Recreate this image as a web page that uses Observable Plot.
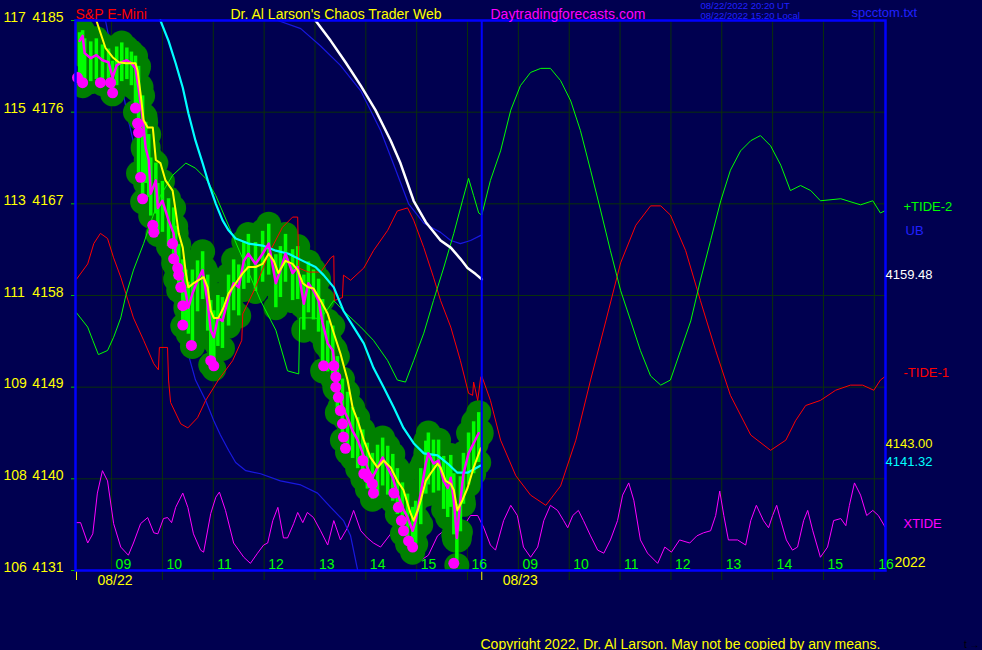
<!DOCTYPE html>
<html><head><meta charset="utf-8">
<script src="https://cdn.jsdelivr.net/npm/d3@7"></script>
<script src="https://cdn.jsdelivr.net/npm/@observablehq/plot@0.6"></script>
<style>html,body{margin:0;padding:0;background:#000050;overflow:hidden}</style>
</head><body><div id="chart"></div>
<script>
// ---- axis data ----
const yTicks = [4185, 4176, 4167, 4158, 4149, 4140, 4131];
const yLeftLabels = ["117", "115", "113", "111", "109", "108", "106"];
const hourT = [0, 1, 2, 3, 4, 5, 6, 7, 8, 9, 10, 11, 12, 13, 14, 15];
const hourLabels = ["09", "10", "11", "12", "13", "14", "15", "16", "09", "10", "11", "12", "13", "14", "15", "16"];
const dayT = [-0.69, 7.28];
const dayLabels = ["08/22", "08/23"];
const nowT = [7.28];

// ---- price bars (hours from 09:00, price) ----
const barT = [-0.63,-0.57,-0.53,-0.41,-0.30,-0.18,-0.06,0.02,0.10,0.20,0.30,0.39,0.47,0.53,0.61,0.67,0.73,0.77,0.87,0.91,1.00,1.12,1.22,1.26,1.32,1.40,1.46,1.51,1.59,1.69,1.79,1.89,1.95,2.01,2.09,2.18,2.30,2.40,2.50,2.60,2.69,2.83,2.97,3.09,3.23,3.32,3.42,3.56,3.66,3.78,3.87,3.97,4.07,4.15,4.25,4.35,4.44,4.54,4.64,4.74,4.84,4.94,5.03,5.13,5.23,5.33,5.43,5.53,5.62,5.72,5.82,5.92,5.98,6.08,6.18,6.23,6.33,6.43,6.53,6.61,6.67,6.73,6.79,6.86,6.92,7.02,7.12,7.22];
const barClose = [4183.0,4183.5,4181.8,4181.3,4181.6,4181.1,4180.9,
 4179.4,4180.6,4180.9,4181.1,4180.8,4180.3,
 4178.4,4175.5,4172.5,4171.3,4168.0,4169.3,4166.6,4167.3,
 4165.4,4164.1,4162.1,4160.8,4159.5,4158.2,4156.8,4158.2,4159.5,4160.5,4157.2,4154.6,4153.9,
 4155.8,4155.5,4157.8,4159.2,4158.8,4161.4,4162.1,4161.1,4162.1,4163.1,
 4159.2,4160.5,4162.1,4160.2,4160.8,4157.2,4159.2,4158.5,4157.5,
 4155.3,4153.3,4152.6,4149.0,4147.0,4146.0,4144.7,4143.8,4142.5,
 4141.1,4140.1,4141.1,4142.1,4141.1,4140.1,4138.6,4137.2,4136.2,4134.9,
 4135.9,4138.6,4141.5,4142.5,4141.5,4141.8,4139.8,4139.1,4140.1,4137.9,
 4134.2,4137.9,4140.5,4142.5,4143.5,4144.5];
const barHi = [4183.8,4184.0,4183.2,4182.9,4183.2,4182.6,4182.2,
 4181.0,4182.4,4182.8,4182.3,4181.9,4181.5,
 4180.5,4177.6,4175.0,4173.8,4171.5,4171.0,4169.0,4169.2,
 4167.5,4166.6,4164.8,4163.0,4161.5,4160.5,4159.3,4160.5,4161.4,4162.3,4160.0,4157.5,4156.5,
 4158.0,4157.8,4160.0,4161.5,4161.0,4163.3,4164.0,4163.2,4164.3,4165.0,
 4162.0,4162.8,4164.0,4162.5,4162.8,4160.0,4161.3,4160.5,4159.6,
 4157.6,4155.5,4155.0,4152.0,4149.8,4148.5,4147.0,4146.0,4144.8,
 4143.5,4142.5,4143.3,4144.0,4143.2,4142.4,4141.0,4139.6,4138.5,4137.2,
 4137.8,4141.0,4143.7,4144.5,4143.8,4143.8,4142.2,4141.5,4142.3,4140.5,
 4137.5,4140.2,4142.5,4144.5,4145.6,4146.5];
const barLo = [4178.8,4178.6,4178.8,4179.0,4179.2,4178.8,4178.6,
 4177.8,4178.6,4179.0,4179.2,4178.6,4176.0,
 4170.0,4167.2,4169.0,4167.6,4165.8,4166.0,4164.0,4164.2,
 4162.8,4161.2,4159.6,4158.5,4155.0,4154.8,4154.2,4153.0,4156.4,4157.6,4154.5,4151.2,4150.8,
 4153.0,4152.8,4155.0,4156.5,4156.0,4158.6,4159.2,4158.4,4159.3,4160.0,
 4156.8,4157.8,4159.3,4157.5,4157.6,4154.6,4156.3,4155.6,4154.4,
 4150.6,4150.5,4149.8,4146.5,4143.8,4142.6,4142.0,4141.0,4140.0,
 4139.0,4138.0,4138.3,4139.3,4138.4,4137.8,4136.5,4134.6,4133.6,4132.8,
 4133.6,4135.5,4138.5,4139.4,4138.6,4138.8,4137.0,4136.2,4137.2,4134.5,
 4131.5,4134.8,4137.5,4139.4,4140.5,4141.6];

// magenta low markers
const dotT = [-0.67,-0.57,-0.22,-0.02,0.02,0.47,0.51,0.53,0.57,0.61,0.81,0.83,1.20,1.22,1.30,1.32,1.36,1.40,1.40,1.57,1.95,2.01,4.17,4.37,4.41,4.41,4.46,4.50,4.54,4.56,4.60,4.94,4.96,5.05,5.13,5.15,5.55,5.64,5.70,5.74,5.84,5.92,6.73];
const dotV = [4179.4,4178.9,4178.9,4178.9,4177.9,4176.4,4174.9,4174.0,4169.6,4167.5,4164.9,4164.2,4163.1,4161.6,4160.7,4160.0,4158.8,4157.0,4155.1,4153.1,4151.6,4151.1,4151.1,4151.1,4150.0,4149.0,4148.0,4146.7,4145.4,4144.1,4143.0,4141.8,4140.5,4140.1,4139.5,4138.6,4138.6,4137.2,4135.9,4134.9,4133.9,4133.3,4131.7];

// yellow smoothed price
const avgT = [-0.30,-0.12,0.02,0.14,0.28,0.47,0.51,0.57,0.63,0.71,0.81,0.87,0.96,1.06,1.20,1.26,1.32,1.40,1.46,1.51,1.61,1.71,1.81,1.89,1.95,2.01,2.10,2.20,2.30,2.44,2.58,2.69,2.83,2.97,3.09,3.19,3.28,3.42,3.56,3.66,3.76,3.87,3.97,4.11,4.25,4.37,4.50,4.64,4.74,4.84,4.96,5.09,5.23,5.35,5.49,5.62,5.74,5.88,5.94,6.02,6.08,6.18,6.27,6.41,6.47,6.57,6.67,6.73,6.80,6.90,7.00,7.12,7.26];
const avgV = [4185.0,4182.3,4181.4,4180.9,4180.8,4180.8,4180.1,4177.8,4175.2,4174.5,4174.5,4171.3,4171.0,4169.3,4168.3,4166.3,4164.1,4162.7,4160.2,4158.8,4159.2,4159.5,4159.8,4158.8,4156.5,4155.8,4155.8,4156.8,4158.2,4159.2,4160.2,4160.8,4160.8,4161.1,4162.1,4161.4,4160.2,4161.4,4161.1,4160.5,4159.2,4158.8,4158.7,4157.5,4156.2,4154.3,4152.3,4149.7,4147.0,4145.7,4143.8,4142.1,4141.1,4141.8,4141.1,4139.8,4138.9,4136.6,4135.9,4136.9,4137.9,4139.8,4140.5,4141.5,4141.1,4139.8,4139.5,4138.9,4136.9,4137.9,4139.1,4141.1,4143.0];

// cyan average
const cyanT = [0.96,1.12,1.26,1.40,1.51,1.65,1.79,1.91,2.05,2.18,2.30,2.44,2.69,2.97,3.23,3.48,3.76,4.01,4.17,4.37,4.56,4.76,4.96,5.15,5.35,5.55,5.74,5.94,6.14,6.41,6.61,6.80,7.00,7.26];
const cyanV = [4185.0,4183.0,4180.8,4178.4,4175.9,4173.2,4171.0,4169.0,4167.0,4165.4,4164.4,4163.6,4163.1,4162.9,4162.4,4162.1,4161.4,4160.8,4160.0,4158.8,4156.5,4154.9,4153.3,4150.9,4149.0,4147.0,4145.0,4143.5,4142.5,4142.3,4141.5,4140.6,4140.6,4141.3];

// white curve
const whiteT = [4.01,4.31,4.60,4.90,5.19,5.49,5.68,5.94,6.18,6.47,6.67,6.86,7.00,7.16,7.28];
const whiteV = [4185.0,4183.0,4180.9,4178.6,4176.2,4173.2,4171.0,4167.3,4165.2,4163.4,4162.7,4161.6,4160.7,4160.1,4159.6];

// blue bands
const ubT = [3.27,3.72,4.11,4.50,4.90,5.29,5.59,5.84,6.14,6.47,6.67,6.86,7.06,7.26];
const ubV = [4185.0,4184.2,4182.5,4180.6,4178.1,4174.2,4170.3,4167.0,4165.1,4164.2,4163.4,4163.1,4163.4,4163.9];
const lbT = [-0.12,-0.02,0.08,0.22,0.33,0.47,0.67,0.87,1.06,1.26,1.46,1.65,1.85,2.01,2.14,2.30,2.44,2.64,2.93,3.32,3.72,4.05,4.31,4.56,4.70,4.84];
const lbV = [4185.0,4182.5,4180.8,4178.1,4175.2,4172.2,4168.3,4164.9,4161.4,4157.5,4153.1,4149.7,4147.7,4145.7,4144.3,4142.8,4141.6,4140.8,4140.5,4139.8,4139.4,4138.6,4137.2,4135.9,4134.4,4131.0];

// -TIDE-1 (red)
const tide1T = [-0.69,-0.47,-0.35,-0.22,-0.08,0.04,0.18,0.28,0.43,0.63,0.83,0.92,0.94,1.10,1.12,1.16,1.36,1.50,1.69,1.85,2.10,2.38,2.56,2.58,2.83,3.09,3.36,3.56,3.66,3.68,3.87,4.11,4.31,4.37,4.38,4.54,4.56,4.70,4.96,5.15,5.43,5.62,5.82,5.94,6.14,6.33,6.47,6.67,6.86,7.02,7.10,7.12,7.20,7.26,7.28,7.45,7.65,7.95,8.24,8.54,8.83,9.13,9.42,9.72,10.01,10.31,10.60,10.80,10.99,11.29,11.58,11.88,12.17,12.57,12.96,13.26,13.45,13.65,13.94,14.24,14.53,14.77,14.99,15.12,15.20];
const tide1V = [4159.6,4161.1,4163.1,4164.1,4163.6,4161.7,4159.8,4158.2,4155.8,4153.6,4151.3,4150.7,4152.9,4152.9,4149.7,4147.5,4145.4,4145.0,4146.0,4147.7,4149.7,4151.6,4153.6,4156.2,4158.8,4162.1,4164.7,4165.7,4165.7,4160.7,4160.3,4160.3,4161.7,4161.9,4157.5,4157.8,4160.0,4159.5,4160.7,4162.4,4164.4,4166.3,4166.6,4165.4,4162.7,4159.8,4157.5,4154.9,4151.6,4148.4,4148.2,4149.5,4147.7,4150.0,4150.1,4147.7,4143.8,4140.3,4138.4,4137.4,4139.3,4143.8,4149.7,4155.5,4161.2,4164.9,4166.8,4166.8,4165.9,4162.4,4157.5,4152.6,4148.2,4144.3,4142.8,4143.8,4145.7,4147.2,4147.7,4148.7,4149.2,4149.2,4148.7,4149.7,4150.0];

// +TIDE-2 (green)
const tide2T = [-0.69,-0.47,-0.37,-0.26,-0.08,0.04,0.18,0.28,0.43,0.63,0.77,0.96,1.20,1.46,1.65,1.85,2.05,2.34,2.64,2.93,3.23,3.46,3.68,3.70,3.97,4.11,4.37,4.56,4.90,5.15,5.43,5.62,5.78,5.94,6.14,6.33,6.53,6.73,6.90,7.02,7.12,7.22,7.28,7.45,7.65,7.85,8.04,8.24,8.44,8.63,8.83,9.03,9.22,9.42,9.62,9.81,10.01,10.21,10.40,10.60,10.80,10.99,11.19,11.39,11.58,11.78,11.98,12.17,12.37,12.57,12.76,12.96,13.16,13.35,13.55,13.75,13.94,14.34,14.73,14.97,15.12,15.20];
const tide2V = [4156.3,4154.9,4153.6,4152.2,4152.6,4153.9,4155.8,4158.0,4160.5,4163.1,4165.2,4167.8,4169.8,4171.0,4170.5,4169.5,4167.8,4164.4,4160.9,4157.5,4154.6,4150.6,4150.3,4155.8,4155.8,4155.7,4157.5,4156.5,4154.9,4153.6,4151.6,4149.7,4149.5,4151.6,4154.3,4157.5,4160.7,4164.1,4167.3,4169.5,4167.8,4166.1,4165.9,4169.3,4172.2,4176.2,4178.6,4179.9,4180.3,4180.3,4179.1,4177.1,4174.2,4170.3,4166.3,4162.4,4158.5,4155.5,4152.6,4150.1,4149.2,4149.7,4152.6,4155.5,4159.5,4163.4,4167.3,4170.3,4172.2,4173.2,4173.7,4172.7,4170.8,4168.3,4168.8,4168.3,4167.3,4167.5,4166.9,4167.3,4166.1,4166.3];

// XTIDE (magenta, bottom)
const xtideT = [-0.69,-0.61,-0.47,-0.37,-0.28,-0.18,-0.08,0.04,0.18,0.33,0.43,0.57,0.71,0.83,0.91,1.02,1.10,1.18,1.26,1.40,1.50,1.61,1.75,1.81,1.95,2.05,2.12,2.24,2.40,2.60,2.73,2.87,2.99,3.07,3.17,3.27,3.38,3.46,3.58,3.66,3.76,3.85,3.97,4.11,4.25,4.37,4.50,4.64,4.76,4.90,5.03,5.15,5.29,5.49,5.68,5.82,5.94,6.08,6.23,6.41,6.61,6.77,6.86,7.06,7.20,7.32,7.45,7.55,7.71,7.85,7.98,8.10,8.24,8.38,8.50,8.63,8.77,8.89,8.97,9.07,9.18,9.28,9.42,9.56,9.68,9.81,9.95,10.05,10.17,10.27,10.40,10.54,10.74,10.88,11.01,11.17,11.37,11.51,11.64,11.78,11.88,11.96,12.04,12.13,12.31,12.47,12.57,12.68,12.82,12.92,13.00,13.08,13.16,13.27,13.39,13.49,13.61,13.69,13.79,13.94,14.08,14.20,14.34,14.44,14.51,14.61,14.73,14.85,14.97,15.08,15.22];
const xtideV = [4135.7,4135.7,4133.7,4134.6,4138.6,4140.8,4139.8,4135.6,4133.3,4132.5,4133.7,4135.6,4136.2,4134.7,4134.6,4136.1,4136.2,4135.7,4137.2,4138.6,4137.2,4134.6,4133.0,4132.8,4136.6,4138.2,4138.7,4136.9,4133.7,4132.3,4131.7,4132.7,4133.5,4133.7,4135.9,4137.2,4134.2,4134.2,4135.6,4136.7,4135.7,4136.7,4136.2,4134.9,4133.5,4135.9,4134.0,4135.2,4136.9,4134.9,4134.2,4133.7,4133.3,4134.6,4135.9,4134.0,4132.7,4132.0,4132.5,4134.4,4135.2,4135.4,4134.9,4136.4,4136.4,4135.2,4133.5,4133.0,4135.9,4137.4,4136.4,4133.3,4132.3,4133.3,4135.9,4137.4,4136.9,4135.9,4135.2,4136.4,4136.9,4135.9,4134.4,4133.0,4132.7,4134.0,4135.9,4138.4,4139.6,4137.9,4134.0,4132.7,4131.7,4133.3,4132.8,4134.0,4133.7,4134.4,4134.7,4134.9,4136.4,4138.8,4136.4,4134.0,4134.0,4133.5,4135.9,4137.4,4135.9,4135.2,4136.4,4137.4,4135.9,4134.0,4133.0,4133.3,4135.9,4136.9,4134.9,4132.3,4133.3,4135.9,4136.1,4135.4,4137.4,4139.6,4138.4,4136.4,4136.9,4136.4,4135.2];

// ---- build ----
const zipT = (t, v) => t.map((x, i) => ({t: x, v: v[i]}));
const bars = barT.map((t, i) => ({t, hi: barHi[i], lo: barLo[i], c: barClose[i]}));
const blobsEnds = barT.map((t, i) => ({t, v: barHi[i]})).concat(barT.map((t, i) => ({t, v: barLo[i]})));
const blobsMid = barT.map((t, i) => ({t, v: barClose[i]}));
const last = a => a[a.length - 1];

const NAVY = "#000050", GRID = "#0a300a", FRAME = "#0000ff", YEL = "#ffff00", UBC = "#2020ff";
const FONT = "'Liberation Sans', Arial, sans-serif";

const chart = Plot.plot({
  width: 982, height: 650,
  marginLeft: 75, marginRight: 97, marginTop: 20, marginBottom: 80,
  x: {domain: [-0.71, 15.22], axis: null},
  y: {domain: [4131, 4185], axis: null},
  style: {background: NAVY, fontFamily: FONT, overflow: "visible"},
  marks: [
    Plot.ruleY(yTicks, {stroke: GRID, strokeWidth: 1}),
    Plot.ruleX(hourT, {stroke: GRID, strokeWidth: 1, insetBottom: -10}),
    Plot.axisY(yTicks, {tickSize: 4, tickFormat: () => "", stroke: "#00c000"}),
    Plot.axisX(dayT, {tickSize: 10, tickFormat: () => "", stroke: YEL}),
    // XTIDE and blue bands beneath price blobs
    Plot.line(zipT(xtideT, xtideV), {x: "t", y: "v", stroke: "#ff00ff", strokeWidth: 1}),
    Plot.line(zipT(lbT, lbV), {x: "t", y: "v", stroke: "#1818e0", strokeWidth: 1.2, clip: true}),
    Plot.line(zipT(ubT, ubV), {x: "t", y: "v", stroke: "#1818e0", strokeWidth: 1.2}),
    // price blobs and bars
    Plot.dot(blobsMid, {x: "t", y: "v", r: 15, fill: "#008000", stroke: null, clip: true}),
    Plot.dot(blobsEnds, {x: "t", y: "v", r: 12.5, fill: "#008000", stroke: null, clip: true}),
    Plot.ruleX(bars, {x: "t", y1: "lo", y2: "hi", stroke: "#00ff00", strokeWidth: 3.5}),
    // tides
    Plot.line(zipT(tide1T, tide1V), {x: "t", y: "v", stroke: "#ff0000", strokeWidth: 1}),
    Plot.line(zipT(tide2T, tide2V), {x: "t", y: "v", stroke: "#00ff00", strokeWidth: 1}),
    Plot.line(zipT(cyanT, cyanV), {x: "t", y: "v", stroke: "#00ffff", strokeWidth: 2.2}),
    Plot.line(zipT(whiteT, whiteV), {x: "t", y: "v", stroke: "#ffffff", strokeWidth: 2.5}),
    Plot.line(bars, {x: "t", y: "c", stroke: "#ff00ff", strokeWidth: 2.5}),
    Plot.dot(zipT(dotT, dotV), {x: "t", y: "v", r: 5.5, fill: "#ff00ff", stroke: null}),
    Plot.line(zipT(avgT, avgV), {x: "t", y: "v", stroke: YEL, strokeWidth: 2}),
    Plot.ruleX(nowT, {stroke: FRAME, strokeWidth: 2}),
    Plot.frame({stroke: FRAME, strokeWidth: 2.5}),
    // y labels
    Plot.text(yTicks, {y: d => d, text: d => String(d), frameAnchor: "left", dx: -12, textAnchor: "end", lineAnchor: "bottom", dy: 1, fill: YEL, fontSize: 14}),
    Plot.text(yTicks, {y: d => d, text: (d, i) => yLeftLabels[i], frameAnchor: "left", dx: -72, textAnchor: "start", lineAnchor: "bottom", dy: 1, fill: YEL, fontSize: 14}),
    // hour labels
    Plot.text(hourT, {x: d => d, text: (d, i) => hourLabels[i], frameAnchor: "bottom", dx: 4, dy: -2, textAnchor: "start", lineAnchor: "bottom", fill: "#00ff00", fontSize: 14}),
    Plot.text(dayT, {x: d => d, text: (d, i) => dayLabels[i], frameAnchor: "bottom", dx: 21, dy: 14, textAnchor: "start", lineAnchor: "bottom", fill: YEL, fontSize: 14}),
    Plot.text(["2022"], {frameAnchor: "bottom-right", dx: 9, dy: -4, textAnchor: "start", lineAnchor: "bottom", fill: YEL, fontSize: 14}),
    // right-side end labels
    Plot.text([last(tide2V)], {y: d => d, text: () => "+TIDE-2", frameAnchor: "right", dx: 18, textAnchor: "start", lineAnchor: "bottom", fill: "#00ff00", fontSize: 13}),
    Plot.text([last(ubV)], {y: d => d, text: () => "UB", frameAnchor: "right", dx: 20, textAnchor: "start", lineAnchor: "bottom", fill: UBC, fontSize: 13}),
    Plot.text([last(whiteV)], {y: d => d, text: () => "4159.48", frameAnchor: "right", dx: 0, textAnchor: "start", lineAnchor: "bottom", fill: "#ffffff", fontSize: 13}),
    Plot.text([last(tide1V)], {y: d => d, text: () => "-TIDE-1", frameAnchor: "right", dx: 18, textAnchor: "start", lineAnchor: "bottom", fill: "#ff0000", fontSize: 13}),
    Plot.text([last(avgV)], {y: d => d, text: () => "4143.00", frameAnchor: "right", dx: 0, textAnchor: "start", lineAnchor: "bottom", fill: YEL, fontSize: 13}),
    Plot.text([last(cyanV)], {y: d => d, text: () => "4141.32", frameAnchor: "right", dx: 0, textAnchor: "start", lineAnchor: "bottom", fill: "#00ffff", fontSize: 13}),
    Plot.text([last(xtideV)], {y: d => d, text: () => "XTIDE", frameAnchor: "right", dx: 18, textAnchor: "start", lineAnchor: "bottom", fill: "#ff00ff", fontSize: 13}),
    // header
    Plot.text(["S&P E-Mini"], {frameAnchor: "top-left", dx: 0, dy: -2, textAnchor: "start", lineAnchor: "bottom", fill: "#ff0000", fontSize: 14}),
    Plot.text(["Dr. Al Larson's Chaos Trader Web"], {frameAnchor: "top-left", dx: 155, dy: -2, textAnchor: "start", lineAnchor: "bottom", fill: YEL, fontSize: 14}),
    Plot.text(["Daytradingforecasts.com"], {frameAnchor: "top-left", dx: 415, dy: -2, textAnchor: "start", lineAnchor: "bottom", fill: "#ff00ff", fontSize: 14}),
    Plot.text(["08/22/2022 20:20 UT\n08/22/2022 15:20 Local"], {frameAnchor: "top-left", dx: 625, dy: -2, textAnchor: "start", lineAnchor: "bottom", lineHeight: 1, fill: UBC, fontSize: 9.5}),
    Plot.text(["spcctom.txt"], {frameAnchor: "top-left", dx: 776, dy: -4, textAnchor: "start", lineAnchor: "bottom", fill: UBC, fontSize: 13}),
    Plot.text(["Copyright 2022, Dr. Al Larson. May not be copied by any means."], {frameAnchor: "bottom-left", dx: 405, dy: 78, textAnchor: "start", lineAnchor: "bottom", fill: YEL, fontSize: 14})
  ]
});
document.getElementById("chart").appendChild(chart);
</script></body></html>
